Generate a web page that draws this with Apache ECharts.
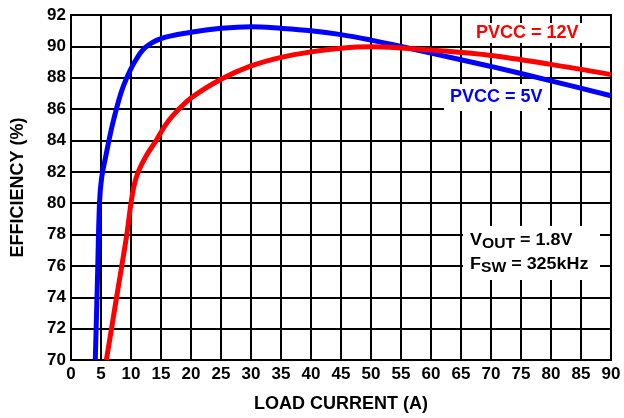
<!DOCTYPE html>
<html>
<head>
<meta charset="utf-8">
<script src="https://cdn.jsdelivr.net/npm/echarts@6/dist/echarts.min.js"></script>
<style>html,body{margin:0;padding:0;background:#fff}#c{width:624px;height:418px}</style>
</head>
<body>
<div id="c"></div>
<script>
// Load current (A) and efficiency (%)
const blueX = [4.05, 4.4, 4.75, 5.1, 5.8, 6.9, 8.3, 9.3, 10.6, 12.3, 15, 20, 25, 30, 35, 40, 45, 50, 55, 60, 70, 80, 90];
const blueY = [70, 75, 80, 81.6, 83, 85, 87, 88, 89, 89.9, 90.5, 90.9, 91.15, 91.25, 91.15, 91.0, 90.75, 90.4, 90.0, 89.57, 88.72, 87.8, 86.85];
const redX = [5.9, 7.6, 9.3, 10.0, 10.5, 11.2, 12.5, 14.2, 15.6, 17, 20, 25, 30, 35, 40, 45, 50, 55, 60, 70, 80, 90];
const redY = [70, 74, 78, 80, 81.1, 82, 83, 84, 84.9, 85.6, 86.7, 87.9, 88.75, 89.3, 89.65, 89.88, 89.97, 89.9, 89.77, 89.42, 88.85, 88.2];
const seriesNames = ['PVCC = 5V', 'PVCC = 12V'];
const xTitle = 'LOAD CURRENT (A)';
const yTitle = 'EFFICIENCY (%)';

const FONT = '"Liberation Sans", Arial, Helvetica, sans-serif';
const zip = (a, b) => a.map((v, i) => [v, b[i]]);

const chart = echarts.init(document.getElementById('c'), null, {renderer: 'canvas'});
const subStyle = {fontSize: 14, fontWeight: 'bold', fontFamily: FONT, fill: '#000', padding: [6, 0, 0, 0]};
chart.setOption({
  animation: false,
  backgroundColor: '#fff',
  grid: {left: 71, right: 13, top: 15, bottom: 56, show: true, borderColor: '#000', borderWidth: 2},
  xAxis: {
    type: 'value', min: 0, max: 90, interval: 5,
    name: xTitle, nameLocation: 'middle', nameGap: 35,
    nameTextStyle: {color: '#000', fontWeight: 'bold', fontSize: 18, fontFamily: FONT},
    axisLine: {show: true, lineStyle: {color: '#000', width: 2}},
    axisTick: {show: false},
    axisLabel: {color: '#000', fontWeight: 'bold', fontSize: 17, fontFamily: FONT, margin: 6},
    splitLine: {show: true, lineStyle: {color: '#000', width: 2}}
  },
  yAxis: {
    type: 'value', min: 70, max: 92, interval: 2,
    name: yTitle, nameLocation: 'middle', nameGap: 44, nameRotate: 90,
    nameTextStyle: {color: '#000', fontWeight: 'bold', fontSize: 18, fontFamily: FONT},
    axisLine: {show: true, lineStyle: {color: '#000', width: 2}},
    axisTick: {show: false},
    axisLabel: {color: '#000', fontWeight: 'bold', fontSize: 17, fontFamily: FONT, margin: 5},
    splitLine: {show: true, lineStyle: {color: '#000', width: 2}}
  },
  series: [
    {name: seriesNames[0], type: 'line', data: zip(blueX, blueY), showSymbol: false, smooth: 0.35,
     lineStyle: {color: '#0000ff', width: 5}, itemStyle: {color: '#0000ff'}, z: 3},
    {name: seriesNames[1], type: 'line', data: zip(redX, redY), showSymbol: false, smooth: 0.35,
     lineStyle: {color: '#ff0000', width: 5}, itemStyle: {color: '#ff0000'}, z: 4}
  ],
  graphic: [
    {type: 'rect', z: 100, shape: {x: 470, y: 23, width: 116, height: 20}, style: {fill: '#fff'}},
    {type: 'text', z: 101, left: 476, top: 24, style: {text: seriesNames[1], fill: '#ff0000', font: 'bold 18px ' + FONT}},
    {type: 'rect', z: 100, shape: {x: 444, y: 84, width: 104, height: 27}, style: {fill: '#fff'}},
    {type: 'text', z: 101, left: 450, top: 88, style: {text: seriesNames[0], fill: '#0000ff', font: 'bold 18px ' + FONT}},
    {type: 'rect', z: 100, shape: {x: 463, y: 226, width: 137, height: 54}, style: {fill: '#fff'}},
    {type: 'text', z: 101, x: 470, y: 231, scaleX: 1.12, originX: 0, originY: 0, style: {
      text: 'V{s|OUT} = 1.8V', fill: '#000', font: 'bold 16px ' + FONT, rich: {s: subStyle}
    }},
    {type: 'text', z: 101, x: 470, y: 255, scaleX: 1.12, originX: 0, originY: 0, style: {
      text: 'F{s|SW} = 325kHz', fill: '#000', font: 'bold 16px ' + FONT, rich: {s: subStyle}
    }}
  ]
});
</script>
</body>
</html>
